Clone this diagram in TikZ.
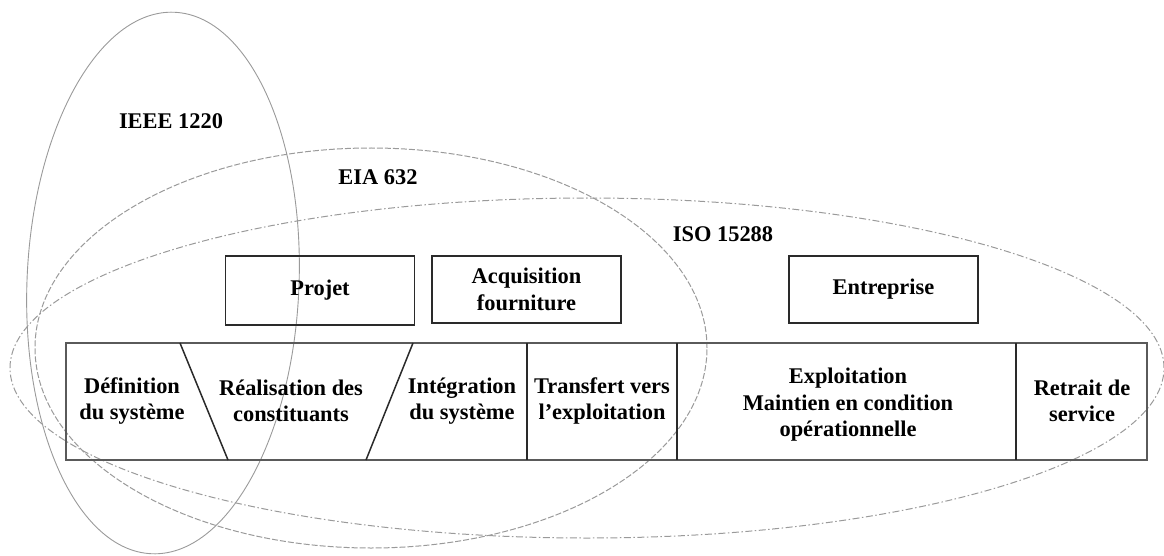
\documentclass[tikz,border=0pt]{standalone}
\usepackage{fontspec}
\setmainfont{Liberation Serif}
\definecolor{ellcol}{HTML}{9A9A9A}
\definecolor{rowcol}{HTML}{5A5A5A}
\definecolor{boxcol}{HTML}{2A2A2A}
\begin{document}
\begin{tikzpicture}[x=1pt,y=-1pt,
  lbl/.style={font=\fontsize{22.4}{26.5}\selectfont\bfseries, align=center, inner sep=0pt, text=black},
  topbox/.style={draw=boxcol, line width=1.8pt, minimum width=189pt, minimum height=67pt, inner sep=0pt,
                 font=\fontsize{22.4}{26.5}\selectfont\bfseries, align=center},
  ieee/.style={draw=ellcol, line width=0.9pt},
  eia/.style={draw=ellcol, line width=1pt, dash pattern=on 6pt off 2pt},
  iso/.style={draw=ellcol, line width=1pt, dash pattern=on 7pt off 2.5pt on 1.5pt off 2.5pt},
  rowline/.style={draw=rowcol, line width=1.8pt},
  divline/.style={draw=boxcol, line width=1.5pt}]
\useasboundingbox (0,0) rectangle (1164,556);

% scopes of the standards
\draw[ieee, rotate around={-2.4:(163,283)}] (163,283) ellipse [x radius=136pt, y radius=271pt];
\draw[eia] (371,348) ellipse [x radius=336pt, y radius=200pt];
\draw[iso] (587,368) ellipse [x radius=577pt, y radius=170pt];

\node[lbl] (lieee) at (171,121) {IEEE 1220};
\node[lbl] (leia) at (378,177) {EIA 632};
\node[lbl] (liso) at (723,234) {ISO 15288};

% upper boxes
\node[topbox, minimum height=69pt] (projet) at (320,290.5) {Projet};
\node[topbox] (acq) at (526.5,289.5) {Acquisition\\fourniture};
\node[topbox] (entr) at (883.5,289.5) {Entreprise};

% life-cycle row
\draw[rowline] (66,343) rectangle (1147,460);
\draw[divline] (180,343) -- (228,460);
\draw[divline] (413,343) -- (366,460);
\draw[divline] (527,343) -- (527,460);
\draw[divline] (677,343) -- (677,460);
\draw[divline] (1016,343) -- (1016,460);

\node[lbl] (def) at (132,401) {Définition\\du système};
\node[lbl] (real) at (291,401) {Réalisation des\\constituants};
\node[lbl] (integ) at (462,401) {Intégration\\du système};
\node[lbl] (transf) at (602,401) {Transfert vers\\l’exploitation};
\node[lbl] (exploit) at (848,405) {Exploitation\\Maintien en condition\\opérationnelle};
\node[lbl] (retrait) at (1082,401) {Retrait de\\service};
\end{tikzpicture}
\end{document}
